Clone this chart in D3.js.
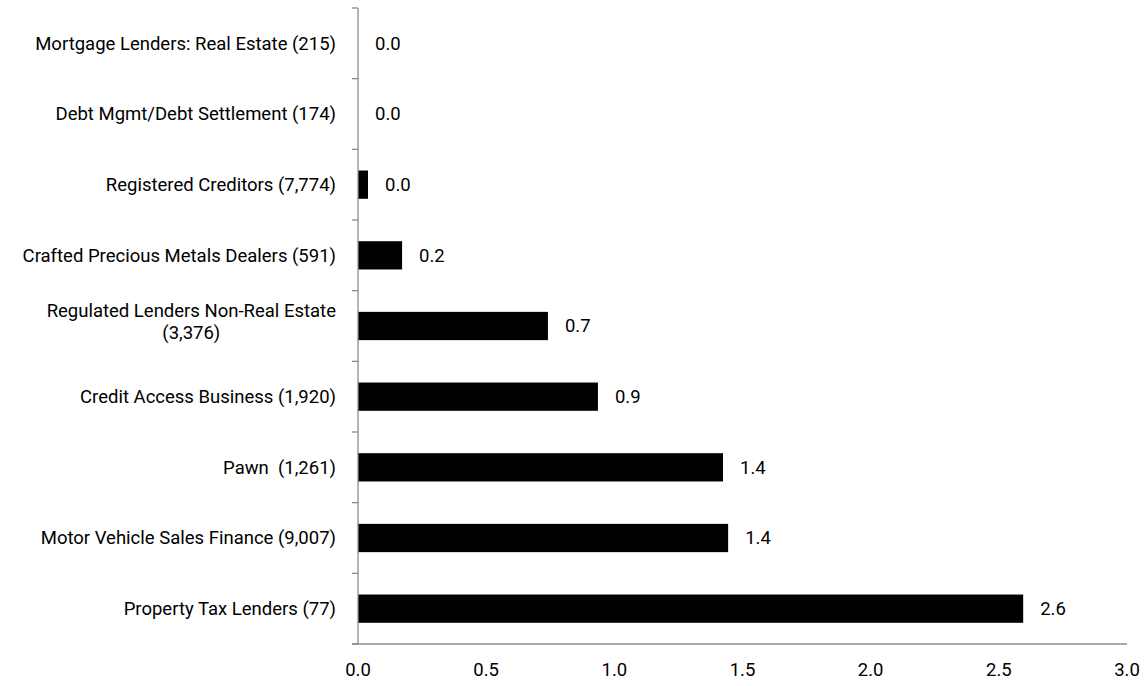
<!DOCTYPE html>
<html><head><meta charset="utf-8">
<script src="https://cdn.jsdelivr.net/npm/d3@7"></script>
<style>body{margin:0;background:#fff}svg{display:block}text{font-family:Roboto,"Open Sans",sans-serif;fill:#000;white-space:pre}</style>
</head><body><svg id="c" width="1145" height="686"></svg>
<script>
const categories = ["Mortgage Lenders: Real Estate (215)","Debt Mgmt/Debt Settlement (174)","Registered Creditors (7,774)","Crafted Precious Metals Dealers (591)","Regulated Lenders Non-Real Estate\n(3,376)","Credit Access Business (1,920)","Pawn  (1,261)","Motor Vehicle Sales Finance (9,007)","Property Tax Lenders (77)"];
const values = [0.0, 0.0, 0.039, 0.172, 0.741, 0.936, 1.424, 1.444, 2.595];
const valueLabels = ["0.0","0.0","0.0","0.2","0.7","0.9","1.4","1.4","2.6"];
const xTicks = [0, 0.5, 1.0, 1.5, 2.0, 2.5, 3.0];

const svg = d3.select("#c");
const x0 = 358, x1 = 1127, yTop = 8, yBot = 644;
const x = d3.scaleLinear().domain([0, 3]).range([x0, x1]);
const y = d3.scaleBand().domain(categories).range([yTop, yBot]).paddingInner(0.6).paddingOuter(0.3);
const step = y.step();
const labelRight = 336;

// fit font size so the widest label spans ~324px
let fs = 30;
categories.forEach(c => {
  c.split("\n").forEach(line => {
    const p = svg.append("text").attr("font-size", 16).text(line);
    fs = Math.min(fs, 16 * 324 / p.node().getComputedTextLength());
    p.remove();
  });
});
fs = Math.min(fs, 18.5);

// bars
svg.selectAll("rect.bar").data(categories).join("rect")
  .attr("x", x(0)).attr("y", d => y(d))
  .attr("width", (d,i) => x(values[i]) - x(0))
  .attr("height", y.bandwidth()).attr("fill", "#000");

// axes lines
const axisCol = "#8c8c8c";
svg.append("line").attr("x1", x0).attr("x2", x0).attr("y1", yTop).attr("y2", yBot).attr("stroke", axisCol).attr("stroke-width", 1.3);
svg.append("line").attr("x1", x0 - 6).attr("x2", x1).attr("y1", yBot).attr("y2", yBot).attr("stroke", axisCol).attr("stroke-width", 1.3);
for (let i = 0; i <= categories.length; i++) {
  const yy = yTop + i * step;
  svg.append("line").attr("x1", x0 - 6).attr("x2", x0).attr("y1", yy).attr("y2", yy).attr("stroke", axisCol).attr("stroke-width", 1.3);
}

// category labels
categories.forEach((c, i) => {
  const lines = c.split("\n");
  const cy = y(c) + y.bandwidth() / 2;
  if (lines.length === 1) {
    svg.append("text").attr("text-anchor", "end").attr("font-size", fs)
      .attr("x", labelRight).attr("y", cy).attr("dy", "0.35em").text(c);
  } else {
    const t1 = svg.append("text").attr("text-anchor", "end").attr("font-size", fs)
      .attr("x", labelRight).attr("y", cy - 9).text(lines[0]);
    const w = t1.node().getComputedTextLength();
    svg.append("text").attr("text-anchor", "middle").attr("font-size", fs)
      .attr("x", labelRight - w / 2).attr("y", cy + 12.5).text(lines[1]);
  }
});

// value labels
svg.selectAll("text.val").data(categories).join("text").attr("class", "val")
  .attr("x", (d,i) => x(values[i]) + 17).attr("y", d => y(d) + y.bandwidth()/2)
  .attr("dy", "0.35em").attr("font-size", fs).text((d,i) => valueLabels[i]);

// x tick labels
svg.selectAll("text.xt").data(xTicks).join("text").attr("class", "xt")
  .attr("x", d => x(d)).attr("y", 670).attr("dy", "0.35em").attr("text-anchor", "middle")
  .attr("font-size", fs).text(d => d.toFixed(1));
</script></body></html>
